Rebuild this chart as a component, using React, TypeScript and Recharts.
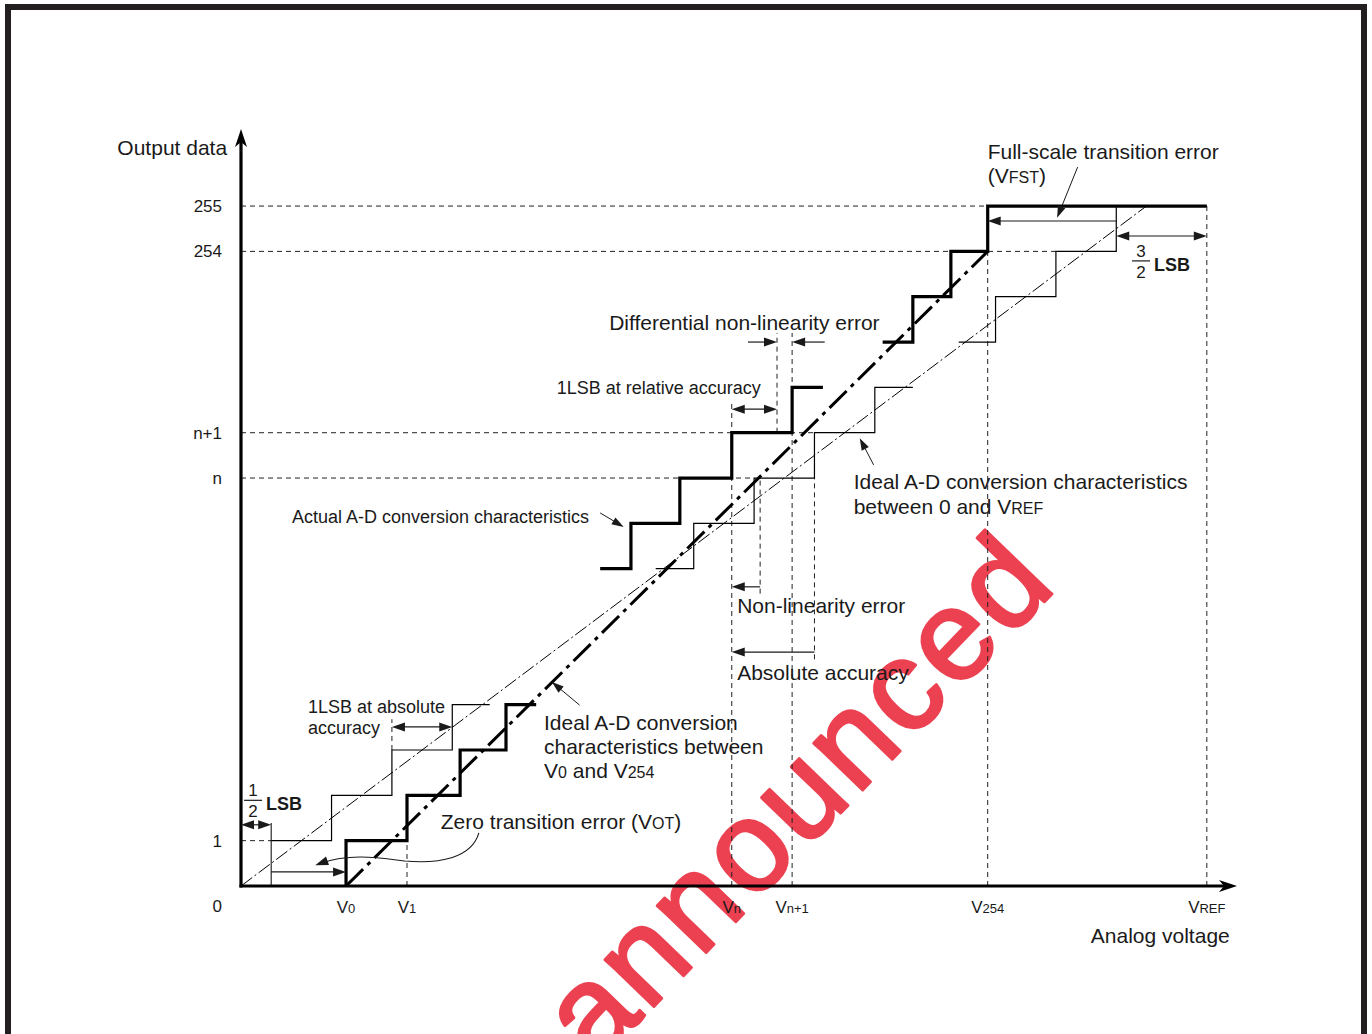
import React from 'react';
import { ComposedChart, Line, XAxis, YAxis, ReferenceLine, ReferenceDot } from 'recharts';

// Units: x = LSB of the ideal 0..VREF staircase, y = output code (schematic, compressed)
const FONT = '"Liberation Sans", Arial, Helvetica, sans-serif';
const INK = '#1a1a1a';

const xTickValues = [1.74, 2.75, 8.13, 9.13, 12.37, 16];
const xTickLabels = [['V', '0'], ['V', '1'], ['V', 'n'], ['V', 'n+1'], ['V', '254'], ['V', 'REF']];
const yTickValues = [0, 1, 9, 10, 14, 15];
const yTickLabels = ['0', '1', 'n', 'n+1', '254', '255'];

// actual A-D conversion characteristics (thick staircase)
const actualLow = [
  { v: 1.74, code: 0 }, { v: 1.74, code: 1 }, { v: 2.75, code: 2 },
  { v: 3.63, code: 3 }, { v: 4.39, code: 4 }, { v: 4.89, code: 4 },
];
const actualMid = [
  { v: 5.95, code: 7 }, { v: 6.46, code: 8 }, { v: 7.27, code: 9 },
  { v: 8.13, code: 10 }, { v: 9.13, code: 11 }, { v: 9.64, code: 11 },
];
const actualHigh = [
  { v: 10.63, code: 12 }, { v: 11.13, code: 13 }, { v: 11.76, code: 14 },
  { v: 12.37, code: 15 }, { v: 16, code: 15 },
];

// ideal characteristics between 0 and VREF (thin staircase)
const idealLow = [
  { v: 0.5, code: 1 }, { v: 1.5, code: 2 }, { v: 2.5, code: 3 },
  { v: 3.5, code: 4 }, { v: 4.12, code: 4 },
];
const idealMid = [
  { v: 6.87, code: 7 }, { v: 7.5, code: 8 }, { v: 8.5, code: 9 },
  { v: 9.5, code: 10 }, { v: 10.5, code: 11 }, { v: 11.13, code: 11 },
];
const idealHigh = [
  { v: 11.89, code: 12 }, { v: 12.5, code: 13 }, { v: 13.5, code: 14 },
  { v: 14.5, code: 15 }, { v: 16, code: 15 },
];

const idealFullLine = [{ v: 0, code: 0 }, { v: 15, code: 15 }];
const idealEndLine = [{ v: 1.74, code: 0 }, { v: 12.37, code: 14 }];

// dashed guides: horizontal [code, from, to], vertical [v, from, to]
const guideH = [[15, 0, 12.37], [14, 0, 13.5], [10, 0, 9.5], [9, 0, 8.5], [1, 0, 0.5]];
const guideV = [
  [2.75, 0, 1], [8.13, 0, 10.68], [8.6, 6.45, 9], [8.88, 10, 12.2], [9.13, 0, 12.2],
  [9.5, 5.0, 9], [12.37, 0, 14], [16, 0, 15], [2.5, 3, 3.68],
];
const solidTicks = [[0.5, 0, 1.39]];

// dimension arrows: [x1, y1, x2, y2, doubleHeaded]
const dimArrows: [number, number, number, number, boolean][] = [
  [0, 1.35, 0.5, 1.35, true],
  [2.5, 3.51, 3.5, 3.51, true],
  [0.5, 0.31, 1.74, 0.31, false],
  [8.13, 10.52, 8.88, 10.52, true],
  [8.4, 12.0, 8.88, 12.0, false],
  [9.67, 12.0, 9.13, 12.0, false],
  [8.6, 6.6, 8.13, 6.6, false],
  [9.5, 5.16, 8.13, 5.16, false],
  [14.5, 14.67, 12.37, 14.67, false],
  [14.5, 14.34, 16, 14.34, true],
];
// leader arrows from text to feature: [x1, y1, x2, y2]
const leaders = [
  [5.61, 3.99, 5.15, 4.5],
  [5.95, 8.23, 6.34, 7.92],
  [10.48, 9.29, 10.25, 9.88],
  [13.86, 15.86, 13.52, 14.74],
];
const curvedLeader = [3.94, 1.17, 1.23, 0.46];

type Note = { v: number; code: number; lines: string[]; size: number; gap?: number; anchor?: string };
const notes: Note[] = [
  { v: -0.23, code: 16.28, lines: ['Output data'], size: 21, anchor: 'end' },
  { v: 12.37, code: 16.21, lines: ['Full-scale transition error', '(V{FST})'], size: 21, gap: 24 },
  { v: 6.1, code: 12.42, lines: ['Differential non-linearity error'], size: 21 },
  { v: 5.23, code: 10.99, lines: ['1LSB at relative accuracy'], size: 18 },
  { v: 10.15, code: 8.91, lines: ['Ideal A-D conversion characteristics', 'between 0 and V{REF}'], size: 21, gap: 25 },
  { v: 0.845, code: 8.14, lines: ['Actual A-D conversion characteristics'], size: 18 },
  { v: 8.22, code: 6.18, lines: ['Non-linearity error'], size: 21 },
  { v: 8.22, code: 4.7, lines: ['Absolute accuracy'], size: 21 },
  { v: 1.11, code: 3.95, lines: ['1LSB at absolute', 'accuracy'], size: 18, gap: 21 },
  { v: 5.02, code: 3.6, lines: ['Ideal A-D conversion', 'characteristics between', 'V{0} and V{254}'], size: 21, gap: 24 },
  { v: 3.31, code: 1.41, lines: ['Zero transition error (V{OT})'], size: 21 },
  { v: 16.38, code: -1.1, lines: ['Analog voltage'], size: 21, anchor: 'end' },
];
const fractions = [
  { v: 0.2, code: 1.89, num: '1', den: '2' },
  { v: 14.91, code: 13.79, num: '3', den: '2' },
];

const parts = (line: string, size: number) =>
  line.split(/(\{[^}]*\})/).filter(Boolean).map((p, i) =>
    p.startsWith('{')
      ? <tspan key={i} fontSize={Math.round(size * 0.76)}>{p.slice(1, -1)}</tspan>
      : <tspan key={i}>{p}</tspan>);

const noteShape = (n: Note) => (p: any) => (
  <text x={p.cx} y={p.cy + n.size * 0.35} textAnchor={n.anchor || 'start'} fontSize={n.size} fontFamily={FONT} fill={INK}>
    {n.lines.map((ln, i) => (
      <tspan key={i} x={p.cx} dy={i === 0 ? 0 : n.gap}>{parts(ln, n.size)}</tspan>
    ))}
  </text>
);

const fractionShape = (f: { num: string; den: string }) => (p: any) => (
  <g fontFamily={FONT} fill={INK}>
    <text x={p.cx} y={p.cy - 4} textAnchor="middle" fontSize={17}>{f.num}</text>
    <line x1={p.cx - 9} y1={p.cy} x2={p.cx + 9} y2={p.cy} stroke={INK} strokeWidth={1.2} />
    <text x={p.cx} y={p.cy + 17} textAnchor="middle" fontSize={17}>{f.den}</text>
    <text x={p.cx + 13} y={p.cy + 10} fontSize={18} fontWeight="bold">LSB</text>
  </g>
);

const headPath = (x: number, y: number, ux: number, uy: number, len: number, hw: number) => {
  const bx = x - ux * len;
  const by = y - uy * len;
  return `M${x},${y} L${bx - uy * hw},${by + ux * hw} L${bx + uy * hw},${by - ux * hw} Z`;
};

const arrowShape = (both: boolean, len = 13, hw = 4.5, sw = 1.2) => (p: any) => {
  const { x1, y1, x2, y2 } = p;
  const d = Math.hypot(x2 - x1, y2 - y1) || 1;
  const ux = (x2 - x1) / d;
  const uy = (y2 - y1) / d;
  return (
    <g>
      <line x1={both ? x1 + ux * 4 : x1} y1={both ? y1 + uy * 4 : y1} x2={x2 - ux * 4} y2={y2 - uy * 4} stroke={INK} strokeWidth={sw} />
      <path d={headPath(x2, y2, ux, uy, len, hw)} fill={INK} />
      {both && <path d={headPath(x1, y1, -ux, -uy, len, hw)} fill={INK} />}
    </g>
  );
};

const axisShape = (p: any) => {
  const { x1, y1, x2, y2 } = p;
  const d = Math.hypot(x2 - x1, y2 - y1) || 1;
  const ux = (x2 - x1) / d;
  const uy = (y2 - y1) / d;
  const bx = x2 - ux * 18;
  const by = y2 - uy * 18;
  const nx = x2 - ux * 13;
  const ny = y2 - uy * 13;
  return (
    <g>
      <line x1={x1 - ux * 1.5} y1={y1 - uy * 1.5} x2={nx} y2={ny} stroke="#000" strokeWidth={3.2} />
      <path d={`M${x2},${y2} L${bx - uy * 6},${by + ux * 6} L${nx},${ny} L${bx + uy * 6},${by - ux * 6} Z`} fill="#000" />
    </g>
  );
};

const curvedShape = (p: any) => {
  const { x1, y1, x2, y2 } = p;
  const path = `M${x1},${y1} C${x1 - 7},${y1 + 25} ${x1 - 39},${y1 + 31} ${x1 - 74},${y1 + 28} C${x1 - 99},${y1 + 25} ${x1 - 129},${y1 + 20} ${x2 + 6},${y2 - 2}`;
  const dx = x2 - (x1 - 129);
  const dy = y2 - (y1 + 20);
  const d = Math.hypot(dx, dy) || 1;
  return (
    <g>
      <path d={path} fill="none" stroke={INK} strokeWidth={1.1} />
      <path d={headPath(x2, y2, dx / d, dy / d, 13, 4.5)} fill={INK} />
    </g>
  );
};

const XTick = (props: any) => {
  const { x, y, payload } = props;
  const i = xTickValues.indexOf(payload.value);
  if (i < 0) return null;
  const [main, sub] = xTickLabels[i];
  return (
    <text x={x} y={y + 27} textAnchor="middle" fontSize={17} fontFamily={FONT} fill={INK}>
      {main}<tspan fontSize={13}>{sub}</tspan>
    </text>
  );
};

const YTick = (props: any) => {
  const { x, y, payload } = props;
  const i = yTickValues.indexOf(payload.value);
  if (i < 0) return null;
  const yy = payload.value === 0 ? y + 26 : y + 6;
  return (
    <text x={x - 19} y={yy} textAnchor="end" fontSize={17} fontFamily={FONT} fill={INK}>
      {yTickLabels[i]}
    </text>
  );
};

const stepLine = (data: any[], key: string, width: number) => (
  <Line key={key} data={data} dataKey="code" type="stepAfter" stroke="#000" strokeWidth={width}
    dot={false} activeDot={false} isAnimationActive={false} />
);

export default function App() {
  return (
    <div style={{ position: 'absolute', left: 0, top: 0, width: 1372, height: 1034, overflow: 'hidden', background: '#fff' }}>
      <div style={{
        position: 'absolute', left: 5, top: 4, width: 1350, height: 1030,
        borderTop: '6px solid #231f20', borderLeft: '6px solid #231f20', borderRight: '6px solid #231f20',
      }} />
      <svg width={1372} height={1034} style={{ position: 'absolute', left: 0, top: 0 }}>
        <text x={828} y={826} transform="rotate(-46 828 826)" textAnchor="middle" fontSize={128} letterSpacing={4}
          fontFamily={FONT} fill="#e8182c" stroke="#e8182c" strokeWidth={3} strokeLinejoin="round" opacity={0.82}>announced</text>
      </svg>
      <div style={{ position: 'absolute', left: 0, top: 0 }}>
        <ComposedChart width={1372} height={1034} margin={{ top: 129, right: 135, bottom: 118, left: 181 }}>
          <XAxis type="number" dataKey="v" domain={[0, 16.5]} allowDataOverflow ticks={xTickValues} interval={0}
            tick={<XTick />} axisLine={false} tickLine={false} tickSize={0} tickMargin={0} height={30} />
          <YAxis type="number" dataKey="code" domain={[0, 16.7]} allowDataOverflow ticks={yTickValues} interval={0}
            tick={<YTick />} axisLine={false} tickLine={false} tickSize={0} tickMargin={0} width={60} />

          {guideH.map(([c, a, b], i) => (
            <ReferenceLine key={`gh${i}`} segment={[{ x: a, y: c }, { x: b, y: c }]} stroke="#222" strokeWidth={1} strokeDasharray="5 4" />
          ))}
          {guideV.map(([v, a, b], i) => (
            <ReferenceLine key={`gv${i}`} segment={[{ x: v, y: a }, { x: v, y: b }]} stroke="#222" strokeWidth={1} strokeDasharray="5 4" />
          ))}
          {solidTicks.map(([v, a, b], i) => (
            <ReferenceLine key={`st${i}`} segment={[{ x: v, y: a }, { x: v, y: b }]} stroke="#000" strokeWidth={1} />
          ))}

          <Line data={idealFullLine} dataKey="code" type="linear" stroke="#000" strokeWidth={1}
            strokeDasharray="14 3 2 3" dot={false} activeDot={false} isAnimationActive={false} />
          <Line data={idealEndLine} dataKey="code" type="linear" stroke="#000" strokeWidth={3}
            strokeDasharray="24 6 4 6" dot={false} activeDot={false} isAnimationActive={false} />

          {stepLine(idealLow, 'il', 1.2)}
          {stepLine(idealMid, 'im', 1.2)}
          {stepLine(idealHigh, 'ih', 1.2)}
          {stepLine(actualLow, 'al', 3.2)}
          {stepLine(actualMid, 'am', 3.2)}
          {stepLine(actualHigh, 'ah', 3.2)}

          <ReferenceLine segment={[{ x: 0, y: 0 }, { x: 16.5, y: 0 }]} shape={axisShape} />
          <ReferenceLine segment={[{ x: 0, y: 0 }, { x: 0, y: 16.7 }]} shape={axisShape} />

          {dimArrows.map(([a, b, c, d, both], i) => (
            <ReferenceLine key={`da${i}`} segment={[{ x: a, y: b }, { x: c, y: d }]} shape={arrowShape(both)} />
          ))}
          {leaders.map(([a, b, c, d], i) => (
            <ReferenceLine key={`ld${i}`} segment={[{ x: a, y: b }, { x: c, y: d }]} shape={arrowShape(false, 12, 4, 1)} />
          ))}
          <ReferenceLine segment={[{ x: curvedLeader[0], y: curvedLeader[1] }, { x: curvedLeader[2], y: curvedLeader[3] }]} shape={curvedShape} />

          {notes.map((n, i) => (
            <ReferenceDot key={`n${i}`} x={n.v} y={n.code} r={0} ifOverflow="visible" shape={noteShape(n)} />
          ))}
          {fractions.map((f, i) => (
            <ReferenceDot key={`f${i}`} x={f.v} y={f.code} r={0} ifOverflow="visible" shape={fractionShape(f)} />
          ))}
        </ComposedChart>
      </div>
    </div>
  );
}
